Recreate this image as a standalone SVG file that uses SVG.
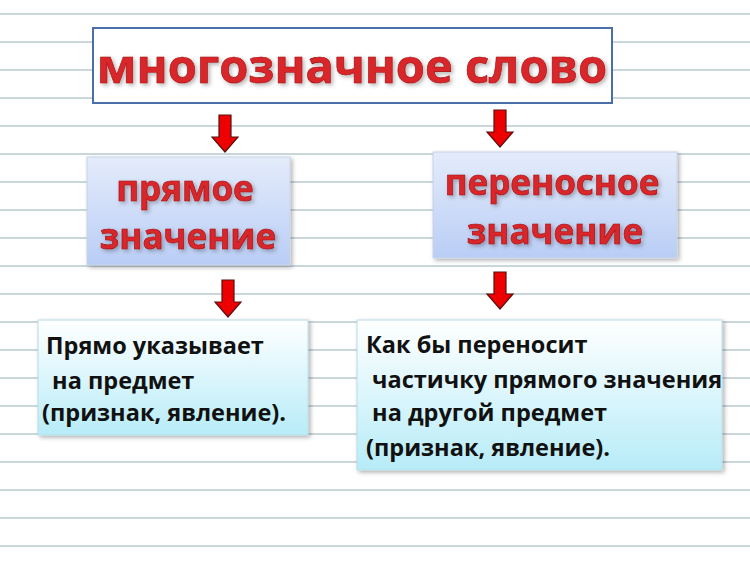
<svg xmlns="http://www.w3.org/2000/svg" width="750" height="561" viewBox="0 0 750 561">
<defs>
<linearGradient id="gv" x1="0" y1="0" x2="0" y2="1"><stop offset="0" stop-color="#e4ecfb"/><stop offset="1" stop-color="#b9cdf5"/></linearGradient>
<linearGradient id="gc" x1="0" y1="0" x2="0" y2="1"><stop offset="0" stop-color="#ffffff"/><stop offset="1" stop-color="#b7ecf8"/></linearGradient>
<pattern id="lines" width="750" height="28" patternUnits="userSpaceOnUse" y="0"><rect width="750" height="28" fill="#fff"/><rect y="13" width="750" height="2" fill="#c9d6da"/></pattern>
<filter id="sh" x="-10%" y="-10%" width="130%" height="130%"><feDropShadow dx="2" dy="2" stdDeviation="2" flood-color="#000" flood-opacity="0.3"/></filter>
<path id="arr" d="M-6,0 H6 V22 H13 L0,37 L-13,22 H-6 Z"/>
</defs>
<style>
.red{font-family:"Open Sans","DejaVu Sans",sans-serif;font-weight:bold;fill:#d9262a;stroke:#a01010;stroke-width:0.6;filter:url(#sh)}
.blk{font-family:"Open Sans","DejaVu Sans",sans-serif;font-weight:bold;font-size:23.5px;fill:#111}
.ar{fill:#ee0000;stroke:#5a1010;stroke-width:1.2}
</style>
<rect width="750" height="561" fill="url(#lines)"/>
<g id="title"><rect x="93" y="28" width="519" height="75" fill="#fff" stroke="#4a6ea8" stroke-width="2"/>
<text class="red" x="352" y="83" font-size="47" text-anchor="middle">многозначное слово</text></g>
<g id="direct"><rect x="87" y="157" width="203" height="108" fill="url(#gv)" stroke="#c8d2e8" filter="url(#sh)"/>
<text class="red" x="185" y="201" font-size="35" text-anchor="middle">прямое</text>
<text class="red" x="188" y="249" font-size="35" text-anchor="middle">значение</text></g>
<g id="figurative"><rect x="433" y="152" width="244" height="106" fill="url(#gv)" stroke="#c8d2e8" filter="url(#sh)"/>
<text class="red" x="552" y="195" font-size="35" text-anchor="middle">переносное</text>
<text class="red" x="555" y="244" font-size="35" text-anchor="middle">значение</text></g>
<g id="desc1"><rect x="38" y="320" width="270" height="115" fill="url(#gc)" stroke="#b8dce8" filter="url(#sh)"/>
<text class="blk" x="46" y="354">Прямо указывает</text>
<text class="blk" x="46" y="389" xml:space="preserve"> на предмет</text>
<text class="blk" x="42" y="421">(признак, явление).</text></g>
<g id="desc2"><rect x="357" y="320" width="365" height="150" fill="url(#gc)" stroke="#b8dce8" filter="url(#sh)"/>
<text class="blk" x="366" y="353">Как бы переносит</text>
<text class="blk" x="366" y="388" xml:space="preserve"> частичку прямого значения</text>
<text class="blk" x="366" y="421" xml:space="preserve"> на другой предмет</text>
<text class="blk" x="366" y="456">(признак, явление).</text></g>
<g id="connectors">
<use href="#arr" class="ar" x="225" y="115"/>
<use href="#arr" class="ar" x="500" y="110"/>
<use href="#arr" class="ar" x="228" y="280"/>
<use href="#arr" class="ar" x="500" y="272"/>
</g>
</svg>
